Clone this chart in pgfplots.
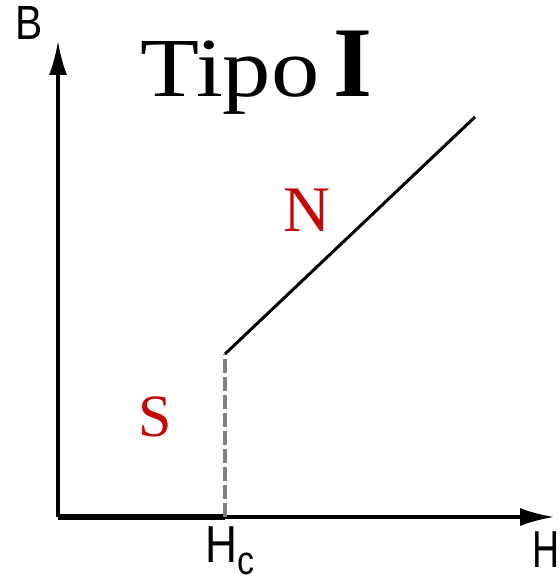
\documentclass[border=0pt]{standalone}
\usepackage{pgfplots}
\pgfplotsset{compat=1.18}
\usetikzlibrary{arrows.meta}
\usepackage{fontspec}
\setmainfont{Liberation Serif}
\newfontfamily\sansf{Liberation Sans}
\definecolor{myred}{RGB}{196,8,8}
\begin{document}
\begin{tikzpicture}[x=0.5pt,y=0.5pt]
\useasboundingbox (-58,-64) rectangle (501,517);
\begin{axis}[
  at={(0,0)}, anchor=origin,
  scale only axis, width=248pt, height=238pt,
  xmin=0, xmax=496, ymin=0, ymax=476,
  axis lines=left,
  axis line style={line width=1.6pt, -{Latex[length=17pt,width=9pt]}},
  xtick=\empty, ytick=\empty,
  clip=false,
]
\addplot[black, line width=3pt] coordinates {(0,0) (167,0)};
\addplot[gray, line width=2pt, dash pattern=on 7pt off 2pt] coordinates {(167,0) (167,163)};
\addplot[black, line width=1.5pt] coordinates {(167,163) (417,400)};
\node[font=\sansf\fontsize{24}{24}\selectfont, inner sep=0pt, anchor=north west, xscale=0.85] at (axis cs:-43,511) {B};
\node[font=\sansf\fontsize{26}{26}\selectfont, inner sep=0pt, anchor=north west, xscale=0.72] at (axis cs:474,-14) {H};
\node[font=\sansf\fontsize{26}{26}\selectfont, inner sep=0pt, anchor=north west, xscale=0.85] at (axis cs:147,-9) {H\raisebox{-6pt}{\fontsize{20}{20}\selectfont c}};
\node[font=\fontsize{42}{42}\selectfont, inner sep=0pt, anchor=base west, xscale=1.15] at (axis cs:82,420) {Tipo};
\node[font=\bfseries\fontsize{50}{50}\selectfont, inner sep=0pt, anchor=base west] at (axis cs:275,420) {I};
\node[font=\fontsize{32.5}{32.5}\selectfont, text=myred, inner sep=0pt, anchor=base west] at (axis cs:225,285) {N};
\node[font=\fontsize{30}{30}\selectfont, text=myred, inner sep=0pt, anchor=base west] at (axis cs:80,80) {S};
\end{axis}
\end{tikzpicture}
\end{document}
